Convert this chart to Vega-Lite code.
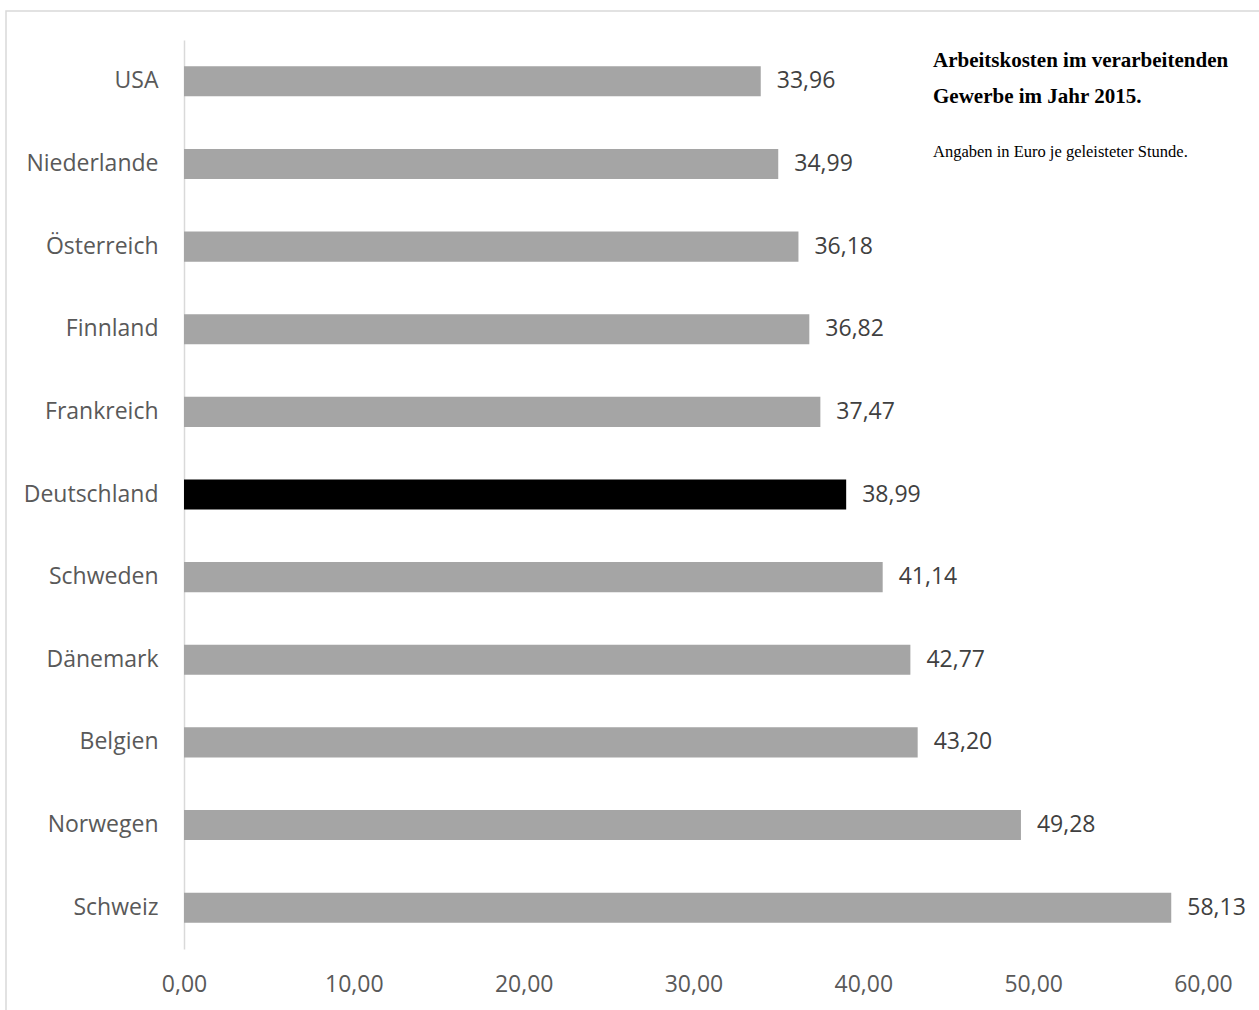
{
  "$schema": "https://vega.github.io/schema/vega-lite/v6.json",
  "width": 1262,
  "height": 1010,
  "autosize": {"type": "none"},
  "padding": {"left": 6, "top": 11, "right": 0, "bottom": 0},
  "background": "white",
  "config": {
    "locale": {"number": {"decimal": ",", "thousands": ".", "grouping": [3], "currency": ["", " €"]}},
    "view": {"stroke": "#d9d9d9", "strokeWidth": 1.5},
    "font": "Open Sans"
  },
  "title": {
    "text": ["Arbeitskosten im verarbeitenden", "Gewerbe im Jahr 2015."],
    "subtitle": "Angaben in Euro je geleisteter Stunde.",
    "anchor": "start",
    "frame": "group",
    "orient": "top",
    "dx": 927,
    "dy": 153,
    "font": "Liberation Serif",
    "fontSize": 21,
    "fontWeight": "bold",
    "color": "#000000",
    "lineHeight": 36,
    "subtitleFont": "Liberation Serif",
    "subtitleFontSize": 16.5,
    "subtitleColor": "#000000",
    "subtitlePadding": 37
  },
  "data": {
    "values": [
      {"land": "USA", "wert": 33.96},
      {"land": "Niederlande", "wert": 34.99},
      {"land": "Österreich", "wert": 36.18},
      {"land": "Finnland", "wert": 36.82},
      {"land": "Frankreich", "wert": 37.47},
      {"land": "Deutschland", "wert": 38.99},
      {"land": "Schweden", "wert": 41.14},
      {"land": "Dänemark", "wert": 42.77},
      {"land": "Belgien", "wert": 43.20},
      {"land": "Norwegen", "wert": 49.28},
      {"land": "Schweiz", "wert": 58.13}
    ]
  },
  "encoding": {
    "y": {
      "field": "land",
      "type": "nominal",
      "sort": null,
      "title": null,
      "scale": {"paddingInner": 0.636, "paddingOuter": 0.318, "range": [29, 938]},
      "axis": {
        "offset": -178,
        "ticks": false,
        "grid": false,
        "domain": true,
        "domainColor": "#d9d9d9",
        "domainWidth": 1.5,
        "labelPadding": 26,
        "labelFontSize": 23,
        "labelColor": "#595959",
        "labelFont": "Open Sans"
      }
    },
    "x": {
      "field": "wert",
      "type": "quantitative",
      "title": null,
      "scale": {"domain": [0, 60], "nice": false, "range": [178, 1197]},
      "axis": {
        "offset": -72,
        "values": [0, 10, 20, 30, 40, 50, 60],
        "format": ".2f",
        "ticks": false,
        "grid": false,
        "domain": false,
        "labelPadding": 24,
        "labelFontSize": 23,
        "labelColor": "#595959",
        "labelFont": "Open Sans",
        "labelFlush": false
      }
    }
  },
  "layer": [
    {
      "mark": {"type": "bar"},
      "encoding": {
        "color": {
          "condition": {"test": "datum.land === 'Deutschland'", "value": "#000000"},
          "value": "#a5a5a5"
        }
      }
    },
    {
      "mark": {"type": "text", "align": "left", "baseline": "middle", "dx": 16, "fontSize": 23, "color": "#404040", "font": "Open Sans"},
      "encoding": {"text": {"field": "wert", "type": "quantitative", "format": ".2f"}}
    }
  ]
}
